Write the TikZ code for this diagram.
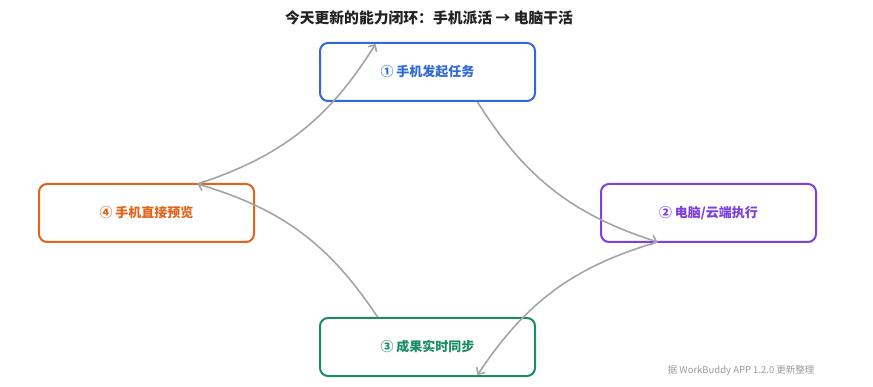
\documentclass[tikz,border=0pt]{standalone}
\usepackage{fontspec}
\setmainfont{Noto Sans CJK SC}
\newfontfamily\cjk{Noto Sans CJK SC}
\usetikzlibrary{arrows.meta,calc}
\definecolor{cblue}{HTML}{3169D6}
\definecolor{cpurple}{HTML}{7D3FE0}
\definecolor{corange}{HTML}{E0641C}
\definecolor{cgreen}{HTML}{1A8E62}
\definecolor{carrow}{HTML}{A3A3AA}
\definecolor{ctitle}{HTML}{222222}
\definecolor{cfoot}{HTML}{9A9A9A}
\begin{document}
\begin{tikzpicture}[x=1pt,y=-1pt,
  stepbox/.style={draw=#1, text=#1, line width=2pt, rounded corners=8pt,
    minimum width=215pt, minimum height=58pt, inner sep=0pt,
    font=\cjk\fontsize{13}{15}\selectfont\bfseries, fill=white},
  flow/.style={draw=carrow, line width=1.6pt,
    -{Straight Barb[length=5pt,width=10pt,line width=1.6pt]}, bend right=20}]
\useasboundingbox (0,0) rectangle (873,387);
\node[font=\cjk\fontsize{14.8}{17}\selectfont\bfseries, text=ctitle] (title) at (429,18) {今天更新的能力闭环：手机派活 → 电脑干活};
\node[stepbox=cblue]   (b1) at (427.5,72)  {① 手机发起任务};
\node[stepbox=cpurple] (b2) at (708.5,213) {② 电脑/云端执行};
\node[stepbox=cgreen]  (b3) at (427.5,347) {③ 成果实时同步};
\node[stepbox=corange] (b4) at (146.5,213) {④ 手机直接预览};
\coordinate (s1) at ([xshift=50pt]b1.south);
\coordinate (e1) at ([xshift=-52pt,yshift=-2pt]b1.north);
\coordinate (p2) at ([xshift=-51pt,yshift=1pt]b2.south);
\coordinate (s3) at ([xshift=-50pt]b3.north);
\coordinate (e3) at ([xshift=50pt,yshift=2pt]b3.south);
\coordinate (p4) at ([xshift=51pt,yshift=-1pt]b4.north);
\draw[flow] (s1) to (p2);
\draw[flow] (p2) to (e3);
\draw[flow] (s3) to (p4);
\draw[flow] (p4) to (e1);
\node[anchor=east, font=\cjk\fontsize{9.5}{11}\selectfont, text=cfoot] (foot) at (818,371) {据 WorkBuddy APP 1.2.0 更新整理};
\end{tikzpicture}
\end{document}
